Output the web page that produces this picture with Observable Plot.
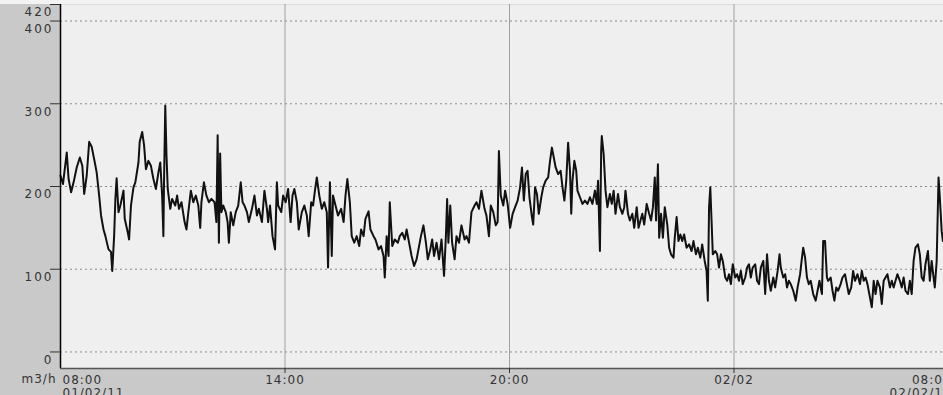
<!DOCTYPE html>
<html><head><meta charset="utf-8">
<script src="https://cdn.jsdelivr.net/npm/d3@7"></script>
<script src="https://cdn.jsdelivr.net/npm/@observablehq/plot@0.6"></script>
<style>
html,body{margin:0;padding:0;background:#c9c9c9;overflow:hidden}
#wrap{width:943px;height:395px;overflow:hidden;background:linear-gradient(to bottom,#f3f3f3 0,#f3f3f3 4px,#c9c9c9 4px)}
#wrap svg text{letter-spacing:1px}
#wrap g[aria-label="y-axis tick label"] text{letter-spacing:2px}
</style></head><body><div id="wrap"></div>
<script>
const startTime = Date.UTC(2011, 1, 1, 8, 0);
const minutes = [0,4,10,13,17,21,26,31,35,38,42,46,50,54,58,62,65,69,72,77,81,83,86,88,90,93,96,101,103,108,110,113,117,120,125,127,131,134,137,141,145,149,153,157,160,163,165,166,168,170,172,176,179,184,187,190,194,199,202,205,209,213,217,221,224,226,230,234,238,242,247,250,252,254,256,258,261,265,268,270,273,277,281,285,289,292,295,299,302,307,311,315,318,323,327,331,333,336,340,344,347,349,354,357,361,365,369,372,375,379,382,387,391,395,398,402,405,408,411,415,419,423,427,429,432,435,437,441,445,450,454,457,460,464,467,471,475,479,482,486,489,494,497,502,505,510,514,518,520,523,526,528,532,536,541,544,548,552,555,559,563,567,571,575,578,582,586,589,593,596,599,603,607,611,615,618,620,622,625,628,632,635,639,643,648,651,655,659,664,667,671,675,680,683,687,690,694,698,701,703,706,710,
713,717,721,725,729,733,737,740,743,746,749,752,756,758,761,764,767,771,774,778,782,785,788,791,794,798,802,805,808,811,814,817,819,821,824,827,829,833,837,841,845,849,853,857,860,862,865,867,868,871,874,877,881,884,887,890,894,897,901,904,906,910,913,917,920,924,927,930,933,936,940,944,947,950,953,955,958,960,963,966,969,973,976,979,983,985,988,991,994,997,1000,1004,1008,1012,1015,1019,1022,1026,1029,1033,1036,1038,1040,1042,1044,1046,1050,1053,1056,1059,1062,1066,1069,1072,1075,1078,1082,1085,1088,1091,1094,1098,1101,1104,1107,1110,1114,1117,1120,1123,1127,1130,1133,1136,1139,1143,1146,1150,1153,1155,1159,1162,1165,1168,1171,1175,1179,1182,1186,1189,1191,1194,1197,1200,1203,1207,1211,1214,1217,1221,1223,1226,1229,1231,1235,1238,1241,1244,1247,1251,1254,1258,1261,1264,1268,1271,1274,1278,1282,1285,1288,1291,1294,1298,1301,1304,1307,1310,1314,1317,1320,1323,1326,1330,1333,1336,1339,1342,1346,1349,1352,1355,1359,1362,1365,1368,1371,1375,1378,1381,1384,1387,1391,1394,1397,1400,1402,1405,1408,1410,1413,1415];
const flow = [213,203,241,209,193,205,223,235,225,191,213,254,248,233,217,189,165,148,140,124,121,98,140,185,210,169,177,195,161,144,136,177,199,205,229,254,266,250,221,231,225,209,197,217,229,189,140,205,298,237,197,173,185,177,189,173,181,157,148,169,195,181,189,177,150,181,205,189,181,185,181,157,262,132,240,169,177,169,157,132,169,153,169,177,205,181,177,169,157,173,189,165,173,157,195,173,157,177,140,124,205,177,169,189,181,197,157,189,197,181,148,169,177,165,140,181,177,195,211,189,173,181,169,102,205,116,189,177,165,173,157,189,209,181,140,132,140,128,148,140,161,170,148,140,136,124,128,116,90,140,116,181,128,136,132,140,144,136,148,132,116,104,112,128,140,153,132,112,124,136,116,132,112,136,92,140,185,132,177,132,112,140,132,153,136,140,132,169,177,181,173,195,173,165,140,177,169,153,157,243,189,177,
195,179,150,167,175,183,199,223,183,215,219,187,163,154,199,191,167,187,199,207,211,231,247,235,223,215,219,199,183,207,253,219,167,207,231,219,195,187,179,183,179,187,179,195,179,207,122,243,261,239,195,175,191,179,195,167,191,175,167,175,195,167,159,167,150,175,150,159,167,154,179,167,159,175,211,159,227,138,167,138,175,154,126,118,114,138,163,134,142,134,142,126,130,122,134,118,126,114,130,110,98,62,175,199,159,118,122,118,102,118,110,90,86,94,82,106,90,94,86,98,82,90,102,106,90,102,106,86,82,102,110,70,118,86,74,90,78,98,118,102,90,94,78,86,82,74,62,78,94,114,126,114,90,82,86,70,62,74,86,70,134,134,90,86,90,74,62,78,74,82,90,94,82,70,78,98,86,94,82,98,86,90,82,66,54,86,70,86,78,58,86,90,94,78,86,78,86,94,86,78,90,74,70,86,70,110,126,130,118,90,86,106,122,86,110,90,78,110,211,187,146,134];
const yTicks = [0, 100, 200, 300, 400, 420];
const yGrid = [0, 100, 200, 300, 400];
const xTickHours = [0, 6, 12, 18, 24];
const xTickLabels = ["08:00\n01/02/11", "14:00", "20:00", "02/02", "08:00\n02/02/11"];
const unitLabel = "m3/h";

const data = minutes.map((m, i) => ({time: new Date(startTime + m * 60000), value: flow[i]}));
const xt = xTickHours.map(h => new Date(startTime + h * 3600000));
const labelMap = new Map(xt.map((d, i) => [+d, xTickLabels[i]]));
const fmt = d => labelMap.get(+d);
const textFill = "#333";

const chart = Plot.plot({
  width: 960, height: 395,
  marginLeft: 60, marginRight: 2, marginTop: 4, marginBottom: 27,
  style: {fontFamily: "DejaVu Sans", fontSize: "12px", background: "transparent", maxWidth: "none", overflow: "visible"},
  x: {type: "utc", domain: [xt[0], xt[4]], axis: null},
  y: {domain: [-20, 420], axis: null},
  marks: [
    Plot.frame({fill: "#efefef"}),
    Plot.gridY(yGrid, {stroke: "#8a8a8a", strokeOpacity: 1, strokeDasharray: "2,3"}),
    Plot.gridX(xt.slice(1, 4), {stroke: "#a0a0a0", strokeOpacity: 1}),
    Plot.lineY(data, {x: "time", y: "value", stroke: "#111", strokeWidth: 2}),
    Plot.ruleX([xt[0]], {stroke: "#000", strokeWidth: 1.5}),
    Plot.ruleY([-20], {stroke: "#555", strokeWidth: 1.5}),
    Plot.axisY(yTicks, {label: null, tickSize: 10, tickFormat: () => "", stroke: "#333"}),
    Plot.axisY(yTicks, {label: null, tickSize: 0, tickPadding: 7, dy: 8, fill: textFill, tickFormat: d => String(d)}),
    Plot.axisX(xt.slice(1, 4), {label: null, tickSize: 5, tickFormat: () => "", stroke: "#333"}),
    Plot.axisX([xt[0]], {label: null, tickSize: 0, tickPadding: 6, tickFormat: fmt, textAnchor: "start", dx: 2, lineHeight: 1.1, fill: textFill}),
    Plot.axisX(xt.slice(1, 4), {label: null, tickSize: 0, tickPadding: 6, tickFormat: fmt, lineHeight: 1.1, fill: textFill}),
    Plot.axisX([xt[4]], {label: null, tickSize: 0, tickPadding: 6, tickFormat: fmt, textAnchor: "end", dx: -7, lineHeight: 1.1, fill: textFill}),
    Plot.text([unitLabel], {text: d => d, frameAnchor: "bottom-left", textAnchor: "end", lineAnchor: "top", dx: -4, dy: 6, fill: textFill})
  ]
});
document.getElementById("wrap").append(chart);
</script>
</body></html>
